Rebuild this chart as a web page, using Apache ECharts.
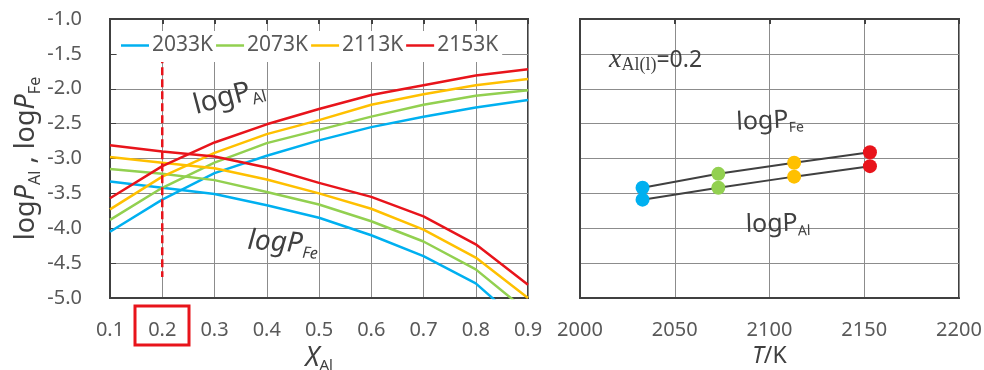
<!DOCTYPE html>
<html>
<head>
<meta charset="utf-8">
<script src="https://cdn.jsdelivr.net/npm/echarts@6/dist/echarts.min.js"></script>
<style>
html, body { margin: 0; padding: 0; background: #fff; }
#main { width: 984px; height: 370px; }
</style>
</head>
<body>
<div id="main"></div>
<script>
var font = 'Noto Sans';
var temps = ['2033K', '2073K', '2113K', '2153K'];
var colors = ['#00B0F0', '#92D050', '#FFC000', '#E8141B'];

// left panel: composition x_Al
var xAl = [0.1, 0.2, 0.3, 0.4, 0.5, 0.6, 0.7, 0.8, 0.9];
var logPAl2033 = [-4.05, -3.59, -3.21, -2.96, -2.74, -2.55, -2.40, -2.27, -2.16];
var logPAl2073 = [-3.88, -3.42, -3.06, -2.78, -2.59, -2.40, -2.23, -2.10, -2.02];
var logPAl2113 = [-3.73, -3.26, -2.92, -2.65, -2.45, -2.23, -2.08, -1.95, -1.86];
var logPAl2153 = [-3.57, -3.11, -2.77, -2.51, -2.29, -2.09, -1.95, -1.81, -1.72];
var logPFe2033 = [-3.33, -3.42, -3.51, -3.67, -3.85, -4.10, -4.40, -4.79, -5.45];
var logPFe2073 = [-3.15, -3.22, -3.31, -3.48, -3.66, -3.90, -4.19, -4.59, -5.20];
var logPFe2113 = [-2.98, -3.06, -3.14, -3.30, -3.50, -3.72, -4.02, -4.42, -5.00];
var logPFe2153 = [-2.81, -2.90, -2.97, -3.13, -3.35, -3.55, -3.83, -4.23, -4.81];
var markX = [0.2, 0.2];
var markY = [-1.52, -4.70];

// right panel: x_Al(l) = 0.2 vs temperature
var tempK = [2033, 2073, 2113, 2153];
var feAt02 = [-3.42, -3.22, -3.06, -2.91];
var alAt02 = [-3.59, -3.42, -3.26, -3.11];

var alSets = [logPAl2033, logPAl2073, logPAl2113, logPAl2153];
var feSets = [logPFe2033, logPFe2073, logPFe2113, logPFe2153];

function pairs(xs, ys) {
  return xs.map(function (x, i) { return [x, ys[i]]; });
}
function dots(ys) {
  return tempK.map(function (t, i) {
    return { value: [t, ys[i]], itemStyle: { color: colors[i] } };
  });
}

var frame = { show: true, onZero: false, lineStyle: { color: '#404040', width: 2 } };
var gridLine = { show: true, lineStyle: { color: '#8c8c8c', width: 1 } };
var labelStyle = { color: '#595959', fontSize: 20, fontFamily: font };

var series = [];
temps.forEach(function (t, i) {
  series.push({
    name: t, type: 'line', xAxisIndex: 0, yAxisIndex: 0,
    symbol: 'none', lineStyle: { color: colors[i], width: 2.5 }, itemStyle: { color: colors[i] },
    data: pairs(xAl, alSets[i])
  });
  series.push({
    name: t, type: 'line', xAxisIndex: 0, yAxisIndex: 0,
    symbol: 'none', lineStyle: { color: colors[i], width: 2.5 }, itemStyle: { color: colors[i] },
    data: pairs(xAl, feSets[i])
  });
});
series.push({
  name: 'x=0.2', type: 'line', xAxisIndex: 0, yAxisIndex: 0, symbol: 'none',
  lineStyle: { color: '#E8141B', width: 2.5, type: [8, 4] },
  data: pairs(markX, markY)
});
series.push({
  name: 'Fe', type: 'line', xAxisIndex: 1, yAxisIndex: 1,
  symbol: 'circle', symbolSize: 14, lineStyle: { color: '#404040', width: 2 },
  data: dots(feAt02)
});
series.push({
  name: 'Al', type: 'line', xAxisIndex: 1, yAxisIndex: 1,
  symbol: 'circle', symbolSize: 14, lineStyle: { color: '#404040', width: 2 },
  data: dots(alAt02)
});

var chart = echarts.init(document.getElementById('main'));
chart.setOption({
  animation: false,
  backgroundColor: '#fff',
  textStyle: { fontFamily: font },
  grid: [
    { left: 110, top: 19, width: 418, height: 279, outerBoundsMode: 'none', containLabel: false,
      show: true, borderColor: '#404040', borderWidth: 2 },
    { left: 580, top: 19, width: 379, height: 279, outerBoundsMode: 'none', containLabel: false,
      show: true, borderColor: '#404040', borderWidth: 2 }
  ],
  legend: {
    data: temps, left: 117, top: 31, icon: 'rect', itemWidth: 28, itemHeight: 2.5, itemGap: 3,
    backgroundColor: '#fff', padding: [4, 4, 6, 4],
    textStyle: { color: '#595959', fontSize: 21, fontFamily: font, padding: [0, 0, 0, -2] }
  },
  xAxis: [
    {
      gridIndex: 0, type: 'value', min: 0.1, max: 0.9, interval: 0.1,
      axisLine: frame, axisTick: { show: false }, splitLine: gridLine,
      axisLabel: Object.assign({ margin: 22, formatter: function (v) { return v.toFixed(1); } }, labelStyle),
      name: '{i|X}{s|Al}', nameLocation: 'middle', nameGap: 42,
      nameTextStyle: { rich: {
        i: { fontSize: 27, fontStyle: 'italic', color: '#404040', fontFamily: font, lineHeight: 30 },
        s: { fontSize: 15, color: '#404040', fontFamily: font, verticalAlign: 'bottom', lineHeight: 10 }
      } }
    },
    {
      gridIndex: 1, type: 'value', min: 2000, max: 2200, interval: 50,
      axisLine: frame, axisTick: { show: false }, splitLine: gridLine,
      axisLabel: Object.assign({ margin: 22, formatter: function (v) { return String(v); } }, labelStyle),
      name: '{i|T}{n|/K}', nameLocation: 'middle', nameGap: 44,
      nameTextStyle: { rich: {
        i: { fontSize: 23, fontStyle: 'italic', color: '#404040', fontFamily: font },
        n: { fontSize: 23, color: '#404040', fontFamily: font }
      } }
    },
    {
      gridIndex: 0, type: 'value', position: 'top', min: 0.1, max: 0.9, interval: 0.1,
      axisLine: frame, axisLabel: { show: false }, splitLine: { show: false },
      axisTick: { show: true, inside: true, length: 5, lineStyle: { color: '#404040', width: 2 } }
    },
    {
      gridIndex: 1, type: 'value', position: 'top', min: 2000, max: 2200, interval: 50,
      axisLine: frame, axisLabel: { show: false }, splitLine: { show: false },
      axisTick: { show: true, inside: true, length: 5, lineStyle: { color: '#404040', width: 2 } }
    }
  ],
  yAxis: [
    {
      gridIndex: 0, type: 'value', min: -5, max: -1, interval: 0.5,
      axisLine: frame, splitLine: gridLine,
      axisTick: { show: true, inside: true, length: 6, lineStyle: { color: '#404040' } },
      axisLabel: Object.assign({ margin: 28, formatter: function (v) { return v.toFixed(1); } }, labelStyle),
      name: '{n|log}{i|P}{s|Al}{n| , log}{i|P}{s|Fe}', nameLocation: 'middle', nameGap: 66,
      nameTextStyle: { rich: {
        n: { fontSize: 27, color: '#404040', fontFamily: font, lineHeight: 34 },
        i: { fontSize: 27, fontStyle: 'italic', color: '#404040', fontFamily: font, lineHeight: 34 },
        s: { fontSize: 16, color: '#404040', fontFamily: font, verticalAlign: 'bottom', lineHeight: 12 }
      } }
    },
    {
      gridIndex: 1, type: 'value', min: -5, max: -1, interval: 0.5,
      axisLine: frame, splitLine: gridLine, axisTick: { show: false }, axisLabel: { show: false }
    }
  ],
  series: series,
  graphic: [
    {
      type: 'rect', shape: { x: 135, y: 306, width: 54, height: 39 },
      style: { fill: 'none', stroke: '#E8141B', lineWidth: 3 }, z: 100
    },
    {
      type: 'text', x: 229, y: 97, rotation: 0.26, z: 100,
      style: {
        text: '{n|logP}{s|Al}', align: 'center', verticalAlign: 'middle',
        rich: {
          n: { fontSize: 28, fill: '#404040', fontFamily: font, lineHeight: 34 },
          s: { fontSize: 16, fill: '#404040', fontFamily: font, verticalAlign: 'bottom', lineHeight: 14 }
        }
      }
    },
    {
      type: 'text', x: 283, y: 243, rotation: -0.06, z: 100,
      style: {
        text: '{n|logP}{s|Fe}', align: 'center', verticalAlign: 'middle',
        rich: {
          n: { fontSize: 28, fontStyle: 'italic', fill: '#404040', fontFamily: font, lineHeight: 34 },
          s: { fontSize: 16, fontStyle: 'italic', fill: '#404040', fontFamily: font, verticalAlign: 'bottom', lineHeight: 12 }
        }
      }
    },
    {
      type: 'text', x: 609, y: 60, z: 100,
      style: {
        text: '{x|x}{s|Al(l)}{n|=0.2}', align: 'left', verticalAlign: 'middle',
        rich: {
          x: { fontSize: 28, fontStyle: 'italic', fill: '#404040', fontFamily: 'Liberation Serif', lineHeight: 28 },
          s: { fontSize: 18, fill: '#404040', fontFamily: 'Liberation Serif', verticalAlign: 'bottom', lineHeight: 12 },
          n: { fontSize: 23, fill: '#404040', fontFamily: font, lineHeight: 28 }
        }
      }
    },
    {
      type: 'text', x: 770, y: 121, rotation: 0.05, z: 100,
      style: {
        text: '{n|logP}{s|Fe}', align: 'center', verticalAlign: 'middle',
        rich: {
          n: { fontSize: 25, fill: '#404040', fontFamily: font, lineHeight: 30 },
          s: { fontSize: 14, fill: '#404040', fontFamily: font, verticalAlign: 'bottom', lineHeight: 14 }
        }
      }
    },
    {
      type: 'text', x: 778, y: 224, rotation: 0.03, z: 100,
      style: {
        text: '{n|logP}{s|Al}', align: 'center', verticalAlign: 'middle',
        rich: {
          n: { fontSize: 25, fill: '#404040', fontFamily: font, lineHeight: 30 },
          s: { fontSize: 14, fill: '#404040', fontFamily: font, verticalAlign: 'bottom', lineHeight: 14 }
        }
      }
    }
  ]
});
</script>
</body>
</html>
